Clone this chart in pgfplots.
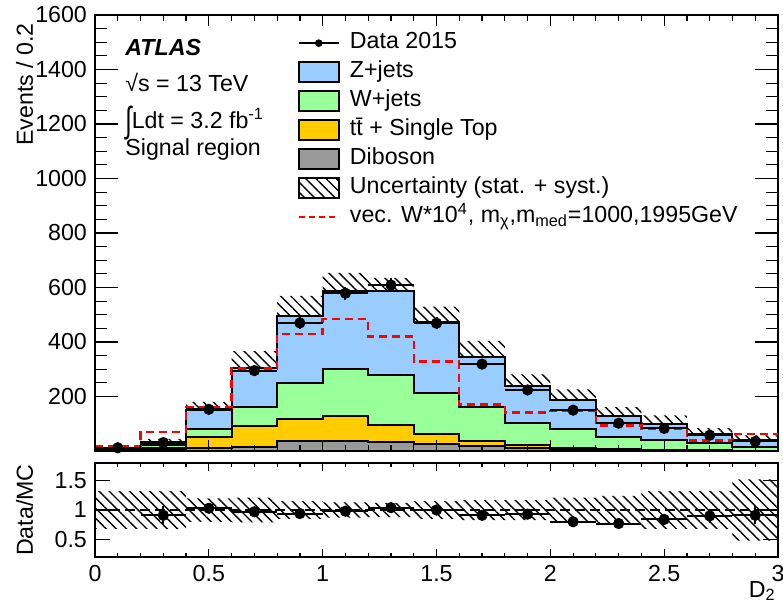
\documentclass[border=0pt]{standalone}
\usepackage{pgfplots}
\pgfplotsset{compat=1.18}
\usepackage{pgfplotstable}
\usepackage{fontspec}
\setmainfont{Liberation Sans}
\usetikzlibrary{patterns.meta,calc}
\usepgfplotslibrary{fillbetween}

\definecolor{zjets}{RGB}{153,204,255}
\definecolor{wjets}{RGB}{153,255,153}
\definecolor{ttbar}{RGB}{255,204,0}
\definecolor{dibos}{RGB}{153,153,153}

% cumulative stack tops per bin (left edges); last row repeats bin 15 to close the steps
\pgfplotstableread{
x    dib  tt   w    z    sig  unc
0.0  0.5  2    3    5    17   1.6
0.2  3    12   22   34   70   11
0.4  10   52   80   150  160  30
0.6  15   90   163  303  303  64
0.8  35   117  251  497  429  72
1.0  38   127  301  587  484  67
1.2  32   97   279  587  420  48
1.4  25   62   212  472  328  58
1.6  18   35   161  346  170  58
1.8  10   21   101  240  142  41
2.0  5    12   80   186  147  40
2.2  3    6    53   130  94   31
2.4  2    4    41   99   82   32
2.6  1    2    28   64   38   20
2.8  1    1    15   39   62   18
3.0  1    1    15   39   62   18
}\stack

\pgfplotstableread{
x    y    ey
0.1  12   3.5
0.3  31   5.6
0.5  153  12.4
0.7  295  17.2
0.9  470  21.7
1.1  579  24.1
1.3  609  24.7
1.5  469  21.7
1.7  319  17.9
1.9  224  15.0
2.1  150  12.2
2.3  102  10.1
2.5  83   9.1
2.7  58   7.6
2.9  35   5.9
}\data

\pgfplotstableread{
x    r     er
0.3  0.91  0.16
0.5  1.03  0.08
0.7  0.97  0.057
0.9  0.94  0.044
1.1  0.98  0.041
1.3  1.04  0.042
1.5  1.00  0.046
1.7  0.91  0.052
1.9  0.93  0.062
2.1  0.80  0.066
2.3  0.77  0.078
2.5  0.84  0.092
2.7  0.90  0.12
2.9  0.91  0.15
}\ratio

\pgfplotstableread{
x    lo    hi
0.0  0.68  1.32
0.2  0.68  1.32
0.4  0.80  1.20
0.6  0.79  1.21
0.8  0.85  1.15
1.0  0.87  1.13
1.2  0.88  1.12
1.4  0.85  1.15
1.6  0.83  1.17
1.8  0.83  1.17
2.0  0.79  1.21
2.2  0.76  1.24
2.4  0.68  1.32
2.6  0.68  1.32
2.8  0.48  1.52
3.0  0.48  1.52
}\band

\tikzset{hatch/.style={pattern={Lines[angle=-45,distance=3.6pt,line width=0.7pt]},
    pattern color=black}}
\pgfplotsset{
  panel/.style={scale only axis, width=341.5pt, xmin=0, xmax=3,
    axis line style={line width=0.8pt}, tick style={line width=0.6pt, black},
    /pgf/number format/assume math mode=true,
    /pgf/number format/1000 sep={}},
}

\begin{document}
\fontsize{11.6}{14}\selectfont
\begin{tikzpicture}
% ---------------- main panel
\begin{axis}[panel, name=main, height=218pt,
  ymin=0, ymax=1600, ytick={200,400,...,1600}, minor y tick num=3,
  xtick=\empty, major tick length=11.5pt, minor tick length=6pt,
  legend style={at={(0.296,0.962)}, anchor=north west, draw=none, fill=none,
    inner sep=0pt, row sep=3.3pt, column sep=5pt,
    nodes={inner sep=0pt, text height=8.5pt, text depth=2.7pt}},
  legend cell align=left]
\addlegendimage{legend image code/.code={
  \draw[black,line width=0.8pt] (0pt,0pt) -- (20pt,0pt);
  \fill[black] (10pt,0pt) circle (1.7pt);}}
\addlegendentry{Data 2015}
\addlegendimage{legend image code/.code={
  \draw[fill=zjets, draw=black, line width=1pt] (0pt,-5pt) rectangle (20pt,5pt);}}
\addlegendentry{Z+jets}
\addlegendimage{legend image code/.code={
  \draw[fill=wjets, draw=black, line width=1pt] (0pt,-5pt) rectangle (20pt,5pt);}}
\addlegendentry{W+jets}
\addlegendimage{legend image code/.code={
  \draw[fill=ttbar, draw=black, line width=1pt] (0pt,-5pt) rectangle (20pt,5pt);}}
\addlegendentry{t\={t} + Single Top}
\addlegendimage{legend image code/.code={
  \draw[fill=dibos, draw=black, line width=1pt] (0pt,-5pt) rectangle (20pt,5pt);}}
\addlegendentry{Diboson}
\addlegendimage{legend image code/.code={
  \draw[hatch, draw=black, line width=1pt] (0pt,-5pt) rectangle (20pt,5pt);}}
\addlegendentry{Uncertainty (stat. + syst.)}
\addlegendimage{legend image code/.code={
  \draw[red, line width=1.2pt, dash pattern=on 3pt off 2pt] (0pt,0pt) -- (20pt,0pt);}}
\addlegendentry{vec. W*10\textsuperscript{4}, m\textsubscript{χ},m\textsubscript{med}=1000,1995GeV}

\addplot[const plot, fill=zjets, draw=black, line width=1pt, forget plot]
  table[x=x, y=z]{\stack} \closedcycle;
\addplot[const plot, fill=wjets, draw=black, line width=1pt, forget plot]
  table[x=x, y=w]{\stack} \closedcycle;
\addplot[const plot, fill=ttbar, draw=black, line width=1pt, forget plot]
  table[x=x, y=tt]{\stack} \closedcycle;
\addplot[const plot, fill=dibos, draw=black, line width=1pt, forget plot]
  table[x=x, y=dib]{\stack} \closedcycle;

\addplot[const plot, draw=none, name path=up, forget plot]
  table[x=x, y expr=\thisrow{z}+\thisrow{unc}]{\stack};
\addplot[const plot, draw=none, name path=lo, forget plot]
  table[x=x, y expr=\thisrow{z}-\thisrow{unc}]{\stack};
\addplot[hatch, draw=none, forget plot] fill between[of=up and lo];

\addplot[const plot, red, line width=1.2pt, dash pattern=on 4pt off 2.5pt, forget plot]
  table[x=x, y=sig]{\stack};

\addplot[only marks, mark=*, mark size=2.6pt, black, forget plot,
  error bars/.cd, x dir=both, x fixed=0.1, y dir=both, y explicit,
  error mark=none, error bar style={line width=1pt}]
  table[x=x, y=y, y error=ey]{\data};

\node[anchor=base west, inner sep=0pt, font=\bfseries\itshape] at ([yshift=-20pt]rel axis cs:0.044,1) {ATLAS};
\node[anchor=base west, inner sep=0pt] at ([yshift=-38.3pt]rel axis cs:0.044,1) {√s = 13 TeV};
\node[anchor=base west, inner sep=0pt] at ([yshift=-56.5pt]rel axis cs:0.044,1)
  {\raisebox{-0.35ex}{\scalebox{1}[1.55]{∫}}Ldt = 3.2 fb\textsuperscript{-1}};
\node[anchor=base west, inner sep=0pt] at ([yshift=-70pt]rel axis cs:0.044,1) {Signal region};
\end{axis}
% x ticks of the main panel (shorter than the y ticks)
\begin{axis}[panel, at={(main.south west)}, anchor=south west, height=218pt,
  ymin=0, ymax=1, ytick=\empty, xtick={0,0.5,...,3}, xticklabels={},
  minor x tick num=4, major tick length=5.5pt, minor tick length=3pt,
  axis line style={draw=none}]
\end{axis}

% ---------------- ratio panel
\begin{axis}[panel, name=ratio, at={($(main.south west)+(0pt,-6pt)$)}, anchor=north west,
  height=47pt, ymin=0.2, ymax=1.8, ytick={0.5,1,1.5}, xtick=\empty,
  major tick length=7.5pt]
\addplot[const plot, draw=none, name path=rup, forget plot] table[x=x, y=hi]{\band};
\addplot[const plot, draw=none, name path=rlo, forget plot] table[x=x, y=lo]{\band};
\addplot[hatch, draw=none, forget plot] fill between[of=rup and rlo];
\addplot[black, line width=0.7pt, dash pattern=on 5pt off 2.5pt, forget plot]
  coordinates {(0,1) (3,1)};
\addplot[only marks, mark=*, mark size=2.6pt, black, forget plot,
  error bars/.cd, x dir=both, x fixed=0.1, y dir=both, y explicit,
  error mark=none, error bar style={line width=1pt}]
  table[x=x, y=r, y error=er]{\ratio};
\end{axis}
\begin{axis}[panel, at={(ratio.south west)}, anchor=south west, height=47pt,
  ymin=0, ymax=1, ytick=\empty, xtick={0,0.5,...,3},
  minor x tick num=4, major tick length=4pt, minor tick length=2pt,
  axis line style={draw=none}]
\end{axis}

\node[rotate=90, anchor=base east] at ($(main.north west)+(-31pt,0pt)$) {Events / 0.2};
\node[rotate=90, anchor=base] at ($(ratio.west)+(-31pt,0pt)$) {Data/MC};
\node[anchor=base east, inner sep=0pt] at ($(ratio.south east)+(-1pt,-20pt)$) {D\textsubscript{2}};

\pgfresetboundingbox
\path[use as bounding box] ($(main.north west)+(-47.5pt,7.5pt)$)
  rectangle ($(ratio.south east)+(2.5pt,-24.5pt)$);
\end{tikzpicture}
\end{document}
